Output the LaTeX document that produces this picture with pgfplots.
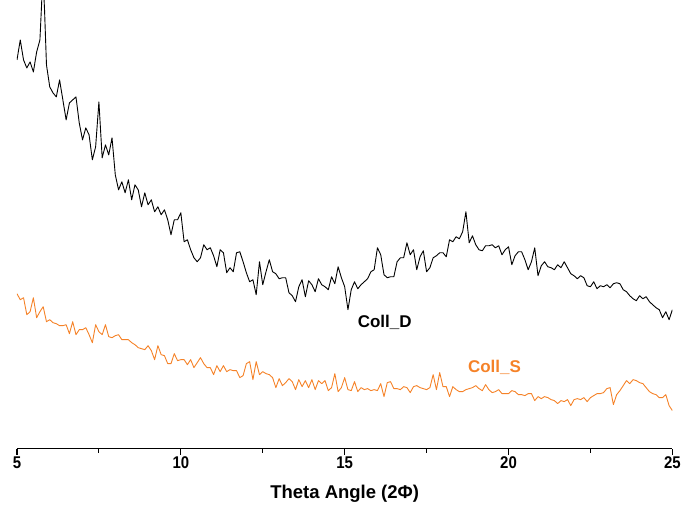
\documentclass[border=0pt]{standalone}
\usepackage{pgfplots}
\usepackage{pgfplotstable}
\pgfplotsset{compat=1.18}
\usepackage{fontspec}
\setmainfont{Liberation Sans}
\newfontfamily\tickfont[FakeStretch=0.88]{Liberation Sans}
\definecolor{collS}{RGB}{245,130,40}

\pgfplotstableread[row sep=\\]{
x y\\
5.0 389\\ 5.1 409\\ 5.2 389\\ 5.3 381\\ 5.4 387\\ 5.5 377\\ 5.6 397\\ 5.7 409\\ 5.75 444\\ 5.79 475\\ 5.84 440\\ 5.9 384\\
6.0 362\\ 6.1 356\\ 6.2 352\\ 6.3 369\\ 6.4 349\\ 6.5 329\\ 6.6 346\\ 6.7 349\\ 6.8 352\\ 6.9 326\\
7.0 309\\ 7.1 321\\ 7.2 314\\ 7.3 289\\ 7.4 302\\ 7.5 347\\ 7.6 291\\ 7.7 304\\ 7.8 294\\ 7.9 311\\
8.0 274\\ 8.1 259\\ 8.2 267\\ 8.3 256\\ 8.4 269\\ 8.5 249\\ 8.6 264\\ 8.7 259\\ 8.8 242\\ 8.9 256\\
9.0 244\\ 9.1 249\\ 9.2 237\\ 9.3 242\\ 9.4 234\\ 9.5 239\\ 9.6 229\\ 9.7 214\\ 9.8 229\\ 9.9 229\\
10.0 236\\ 10.1 207\\ 10.2 209\\ 10.3 199\\ 10.4 191\\ 10.5 187\\ 10.6 191\\ 10.7 204\\ 10.8 199\\ 10.9 201\\
11.0 193\\ 11.1 182\\ 11.2 199\\ 11.3 196\\ 11.4 176\\ 11.5 181\\ 11.6 177\\ 11.7 196\\ 11.8 197\\ 11.9 187\\
12.0 176\\ 12.1 167\\ 12.2 169\\ 12.3 154\\ 12.4 187\\ 12.5 164\\ 12.6 177\\ 12.7 189\\ 12.8 177\\ 12.9 175\\
13.0 170\\ 13.1 171\\ 13.2 171\\ 13.3 156\\ 13.4 153\\ 13.5 147\\ 13.6 162\\ 13.7 169\\ 13.8 152\\ 13.9 168\\
14.0 164\\ 14.1 157\\ 14.2 170\\ 14.3 164\\ 14.4 162\\ 14.5 159\\ 14.6 172\\ 14.7 165\\ 14.8 182\\ 14.9 171\\
15.0 162\\ 15.1 139\\ 15.2 159\\ 15.3 167\\ 15.4 160\\ 15.5 164\\ 15.6 167\\ 15.7 170\\ 15.8 177\\ 15.9 179\\
16.0 201\\ 16.1 194\\ 16.2 174\\ 16.3 171\\ 16.4 172\\ 16.5 172\\ 16.6 187\\ 16.7 191\\ 16.8 191\\ 16.9 206\\
17.0 194\\ 17.1 199\\ 17.2 179\\ 17.3 192\\ 17.4 198\\ 17.5 177\\ 17.6 181\\ 17.7 191\\ 17.8 193\\ 17.9 196\\
18.0 196\\ 18.1 192\\ 18.2 209\\ 18.3 207\\ 18.4 212\\ 18.5 210\\ 18.6 217\\ 18.7 237\\ 18.8 206\\ 18.9 213\\
19.0 204\\ 19.1 199\\ 19.2 198\\ 19.3 203\\ 19.4 203\\ 19.5 204\\ 19.6 201\\ 19.7 203\\ 19.8 194\\ 19.9 199\\
20.0 202\\ 20.1 184\\ 20.2 193\\ 20.3 197\\ 20.4 197\\ 20.5 189\\ 20.6 179\\ 20.7 187\\ 20.8 201\\ 20.9 173\\
21.0 183\\ 21.1 187\\ 21.2 182\\ 21.3 181\\ 21.4 179\\ 21.5 184\\ 21.6 181\\ 21.7 187\\ 21.8 181\\ 21.9 175\\
22.0 173\\ 22.1 170\\ 22.2 173\\ 22.3 171\\ 22.4 163\\ 22.5 162\\ 22.6 167\\ 22.7 160\\ 22.8 163\\ 22.9 162\\
23.0 164\\ 23.1 161\\ 23.2 165\\ 23.3 166\\ 23.4 165\\ 23.5 159\\ 23.6 157\\ 23.7 153\\ 23.8 150\\ 23.9 148\\
24.0 153\\ 24.1 150\\ 24.2 152\\ 24.3 147\\ 24.4 144\\ 24.5 141\\ 24.6 139\\ 24.7 131\\ 24.8 137\\ 24.9 129\\
25.0 139\\
}\collD

\pgfplotstableread[row sep=\\]{
x y\\
5.0 155\\ 5.1 149\\ 5.2 151\\ 5.3 134\\ 5.4 137\\ 5.5 151\\ 5.6 131\\ 5.7 137\\ 5.8 142\\ 5.9 127\\
6.0 129\\ 6.1 126\\ 6.2 125\\ 6.3 123\\ 6.4 123\\ 6.5 124\\ 6.6 115\\ 6.7 127\\ 6.8 114\\ 6.9 119\\
7.0 119\\ 7.1 121\\ 7.2 114\\ 7.3 106\\ 7.4 124\\ 7.5 117\\ 7.6 114\\ 7.7 124\\ 7.8 112\\ 7.9 111\\
8.0 113\\ 8.1 114\\ 8.2 109\\ 8.3 109\\ 8.4 109\\ 8.5 106\\ 8.6 104\\ 8.7 101\\ 8.8 100\\ 8.9 99\\
9.0 103\\ 9.1 98\\ 9.2 89\\ 9.3 103\\ 9.4 94\\ 9.5 93\\ 9.6 85\\ 9.7 85\\ 9.8 95\\ 9.9 88\\
10.0 89\\ 10.1 89\\ 10.2 84\\ 10.3 89\\ 10.4 81\\ 10.5 86\\ 10.6 91\\ 10.7 85\\ 10.8 81\\ 10.9 81\\
11.0 74\\ 11.1 83\\ 11.2 77\\ 11.3 83\\ 11.4 77\\ 11.5 79\\ 11.6 78\\ 11.7 78\\ 11.8 71\\ 11.9 73\\
12.0 85\\ 12.1 87\\ 12.2 69\\ 12.3 87\\ 12.4 74\\ 12.5 77\\ 12.6 75\\ 12.7 74\\ 12.8 71\\ 12.9 61\\
13.0 70\\ 13.1 63\\ 13.2 66\\ 13.3 70\\ 13.4 67\\ 13.5 59\\ 13.6 69\\ 13.7 62\\ 13.8 68\\ 13.9 61\\
14.0 69\\ 14.1 59\\ 14.2 68\\ 14.3 65\\ 14.4 68\\ 14.5 58\\ 14.6 61\\ 14.7 75\\ 14.8 57\\ 14.9 61\\
15.0 71\\ 15.1 59\\ 15.2 58\\ 15.3 67\\ 15.4 57\\ 15.5 61\\ 15.6 59\\ 15.7 60\\ 15.8 58\\ 15.9 59\\
16.0 58\\ 16.1 65\\ 16.2 52\\ 16.3 66\\ 16.4 67\\ 16.5 60\\ 16.6 60\\ 16.7 59\\ 16.8 62\\ 16.9 61\\
17.0 56\\ 17.1 62\\ 17.2 63\\ 17.3 61\\ 17.4 60\\ 17.5 59\\ 17.6 61\\ 17.7 74\\ 17.8 59\\ 17.9 76\\
18.0 62\\ 18.1 62\\ 18.2 52\\ 18.3 62\\ 18.4 59\\ 18.5 57\\ 18.6 57\\ 18.7 59\\ 18.8 60\\ 18.9 61\\
19.0 63\\ 19.1 60\\ 19.2 58\\ 19.3 64\\ 19.4 59\\ 19.5 56\\ 19.6 57\\ 19.7 59\\ 19.8 55\\ 19.9 55\\
20.0 55\\ 20.1 58\\ 20.2 57\\ 20.3 54\\ 20.4 54\\ 20.5 53\\ 20.6 55\\ 20.7 55\\ 20.8 48\\ 20.9 52\\
21.0 50\\ 21.1 52\\ 21.2 51\\ 21.3 49\\ 21.4 48\\ 21.5 45\\ 21.6 48\\ 21.7 47\\ 21.8 49\\ 21.9 43\\
22.0 49\\ 22.1 50\\ 22.2 49\\ 22.3 51\\ 22.4 47\\ 22.5 51\\ 22.6 53\\ 22.7 55\\ 22.8 55\\ 22.9 56\\
23.0 60\\ 23.1 61\\ 23.2 44\\ 23.3 54\\ 23.4 58\\ 23.5 63\\ 23.6 68\\ 23.7 65\\ 23.8 69\\ 23.9 68\\
24.0 66\\ 24.1 65\\ 24.2 61\\ 24.3 57\\ 24.4 55\\ 24.5 54\\ 24.6 51\\ 24.7 51\\ 24.8 54\\ 24.9 43\\
25.0 38\\
}\collS

\begin{document}
\begin{tikzpicture}
\path (-17pt,-64pt) rectangle (667pt,449pt);
\begin{axis}[
  at={(0,0)}, anchor=south west,
  scale only axis,
  width=656pt, height=449pt,
  xmin=5, xmax=25, ymin=0, ymax=449,
  axis x line=bottom, axis y line=none,
  axis line style={-, line width=1.1pt},
  xtick={5,10,15,20,25},
  minor x tick num=1,
  tick align=outside,
  major tick length=6pt, minor tick length=4pt,
  tick style={line width=1.1pt, black},
  /pgf/number format/assume math mode=true,
  xticklabel style={font=\tickfont\fontsize{17}{17}\selectfont\bfseries, yshift=1pt},
  xlabel={Theta Angle (2Φ)},
  xlabel style={font=\fontsize{18.5}{18.5}\selectfont\bfseries, yshift=-9pt},
  clip=true,
]
\addplot[black, line width=0.9pt, line join=round] table[x=x, y=y] {\collD};
\addplot[collS, line width=0.9pt, line join=round] table[x=x, y=y] {\collS};
\node[font=\fontsize{17}{17}\selectfont\bfseries, text=black] at (axis cs:16.22,126) {Coll\_D};
\node[font=\fontsize{17}{17}\selectfont\bfseries, text=collS] at (axis cs:19.57,81) {Coll\_S};
\end{axis}
\end{tikzpicture}
\end{document}
